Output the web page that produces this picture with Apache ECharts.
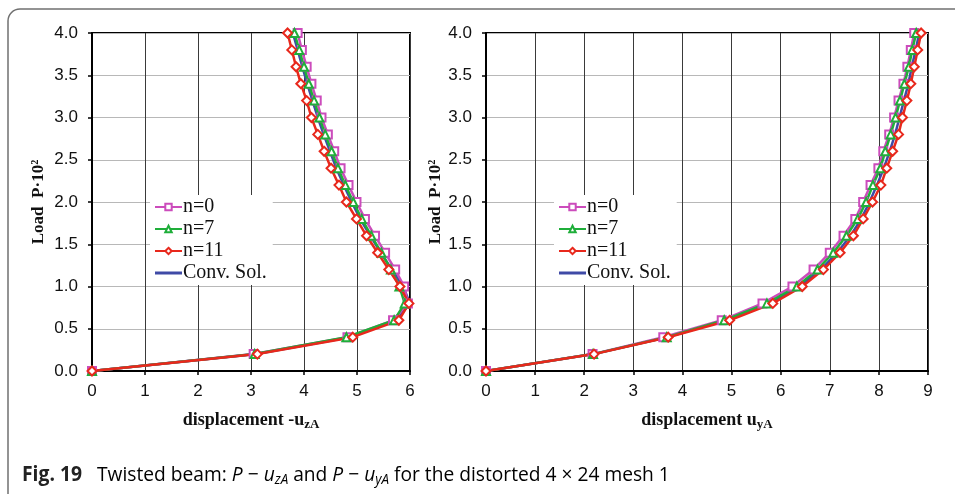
<!DOCTYPE html>
<html><head><meta charset="utf-8">
<script src="https://cdn.jsdelivr.net/npm/echarts@6/dist/echarts.min.js"></script>
<style>html,body{margin:0;padding:0;background:#fff}#c{width:955px;height:494px}</style>
</head><body><div id="c"></div>
<script>
const loads = [0,0.2,0.4,0.6,0.8,1.0,1.2,1.4,1.6,1.8,2.0,2.2,2.4,2.6,2.8,3.0,3.2,3.4,3.6,3.8,4.0];
const seriesNames = ['n=0','n=7','n=11','Conv. Sol.'];
// left chart: displacement -u_zA
const uz_n0  = [0,3.05,4.82,5.68,5.96,5.89,5.72,5.53,5.34,5.15,4.99,4.84,4.69,4.57,4.45,4.33,4.24,4.14,4.05,3.96,3.88];
const uz_n7  = [0,3.07,4.80,5.70,5.90,5.80,5.64,5.46,5.27,5.09,4.93,4.78,4.64,4.52,4.40,4.29,4.19,4.09,4.00,3.91,3.82];
const uz_n11 = [0,3.12,4.92,5.79,5.98,5.81,5.60,5.39,5.18,4.99,4.80,4.66,4.51,4.38,4.26,4.14,4.05,3.94,3.85,3.77,3.69];
const uz_conv= [0,3.10,4.86,5.74,6.00,5.87,5.66,5.45,5.25,5.06,4.90,4.75,4.61,4.49,4.37,4.26,4.16,4.06,3.97,3.88,3.79];
// right chart: displacement u_yA
const uy_n0  = [0,2.17,3.61,4.80,5.63,6.24,6.67,7.00,7.28,7.52,7.68,7.83,7.99,8.09,8.21,8.31,8.40,8.50,8.58,8.65,8.72];
const uy_n7  = [0,2.18,3.68,4.85,5.72,6.33,6.75,7.07,7.34,7.57,7.74,7.88,8.03,8.13,8.24,8.34,8.43,8.52,8.61,8.68,8.76];
const uy_n11 = [0,2.20,3.71,4.96,5.84,6.44,6.87,7.21,7.48,7.68,7.87,8.04,8.16,8.28,8.40,8.48,8.57,8.65,8.72,8.79,8.86];
const uy_conv= [0,2.19,3.68,4.88,5.78,6.38,6.82,7.15,7.42,7.64,7.81,7.96,8.10,8.22,8.33,8.42,8.51,8.60,8.67,8.75,8.82];
const yTicks = ['0.0','0.5','1.0','1.5','2.0','2.5','3.0','3.5','4.0'];

const colors = ['#cc4cbc','#1fae3a','#e8281c','#3f4aa6'];
const symbols = ['rect','triangle','diamond','none'];
const symSizes = [8,8,9,0];

function pairs(xs){ return xs.map((x,i)=>[x,loads[i]]); }

function mkSeries(grid, arrs){
  return arrs.map((a,k)=>({
    type:'line', name:seriesNames[k], xAxisIndex:grid, yAxisIndex:grid,
    data:pairs(a), symbol:symbols[k], symbolSize:symSizes[k], showSymbol:k<3,
    lineStyle:{color:colors[k], width:2.5},
    itemStyle:{color:'#fff', borderColor:colors[k], borderWidth:2},
    z: k===3 ? 3 : 4, animation:false
  }));
}

const tickFont = {fontFamily:'Liberation Sans', fontSize:17, color:'#111'};
function xAxis(grid, max, nameMain, sub){
  return {type:'value', gridIndex:grid, min:0, max:max, interval:1,
    axisLine:{show:true, onZero:false, lineStyle:{color:'#000', width:2}},
    axisTick:{show:true, length:4, lineStyle:{color:'#000', width:1.5}},
    axisLabel:Object.assign({margin:12}, tickFont),
    splitLine:{show:true, lineStyle:{color:'#3a3a3a', width:1}},
    name:'{m|'+nameMain+'}{s|'+sub+'}', nameLocation:'middle', nameGap:38,
    nameTextStyle:{rich:{
      m:{fontFamily:'Liberation Serif', fontWeight:'bold', fontSize:18, color:'#111'},
      s:{fontFamily:'Liberation Serif', fontWeight:'bold', fontSize:13, color:'#111', padding:[9,0,0,0]}
    }}
  };
}
function yAxis(grid, gap){
  return {type:'value', gridIndex:grid, min:0, max:4, interval:0.5,
    axisLine:{show:true, onZero:false, lineStyle:{color:'#000', width:2}},
    axisTick:{show:true, length:4, lineStyle:{color:'#000', width:1.5}},
    axisLabel:Object.assign({margin:14, formatter:(v)=>yTicks[Math.round(v*2)]}, tickFont),
    splitLine:{show:true, lineStyle:{color:'#b8b8b8', width:1}},
    name:'Load  P·10²', nameLocation:'middle', nameGap:gap, nameRotate:90,
    nameTextStyle:{fontFamily:'Liberation Serif', fontWeight:'bold', fontSize:17, color:'#111'}
  };
}
function legend(left){
  return {orient:'vertical', left:left, top:195, itemWidth:27, itemHeight:8, itemGap:2,
    backgroundColor:'#fff', padding:[2,6,2,4],
    textStyle:{fontFamily:'Liberation Serif', fontSize:20, lineHeight:20, color:'#111', padding:[0,0,0,-4]},
    data:[seriesNames[0],seriesNames[1],seriesNames[2],
      {name:seriesNames[3], icon:'path://M0,0 L27,0 L27,3 L0,3 Z', itemStyle:{color:colors[3], borderWidth:0}}],
    selectedMode:false};
}

const chart = echarts.init(document.getElementById('c'), null, {renderer:'canvas'});
chart.setOption({
  animation:false,
  backgroundColor:'#fff',
  grid:[
    {left:92, right:545, top:33, bottom:123, show:true, borderColor:'#000', borderWidth:2, backgroundColor:'transparent'},
    {left:486, right:27, top:33, bottom:123, show:true, borderColor:'#000', borderWidth:2, backgroundColor:'transparent'}
  ],
  xAxis:[xAxis(0,6,'displacement -u','zA'), xAxis(1,9,'displacement u','yA')],
  yAxis:[yAxis(0,45), yAxis(1,40)],
  legend:[legend(150), legend(554)],
  series:[...mkSeries(0,[uz_n0,uz_n7,uz_n11,uz_conv]), ...mkSeries(1,[uy_n0,uy_n7,uy_n11,uy_conv])],
  graphic:[
    {type:'rect', shape:{x:8, y:9, width:1000, height:520, r:12}, style:{fill:'none', stroke:'#707070', lineWidth:1.5}, silent:true, z:-1},
    {type:'text', x:22, y:475, scaleX:0.92, style:{text:'Fig. 19', fontFamily:'Open Sans', fontWeight:'bold', fontSize:21, fill:'#222', verticalAlign:'middle'}},
    {type:'text', x:97, y:475, scaleX:0.96, style:{
      text:'{n|Twisted beam: }{i|P}{n| − }{i|u}{s|zA}{n| and }{i|P}{n| − }{i|u}{s|yA}{n| for the distorted 4 × 24 mesh 1}',
      verticalAlign:'middle',
      rich:{
        n:{fontFamily:'Open Sans', fontSize:20, color:'#333'},
        i:{fontFamily:'Open Sans', fontStyle:'italic', fontSize:20, color:'#333'},
        s:{fontFamily:'Open Sans', fontStyle:'italic', fontSize:14, color:'#333', padding:[10,0,0,0]}
      }}}
  ]
});
</script></body></html>
